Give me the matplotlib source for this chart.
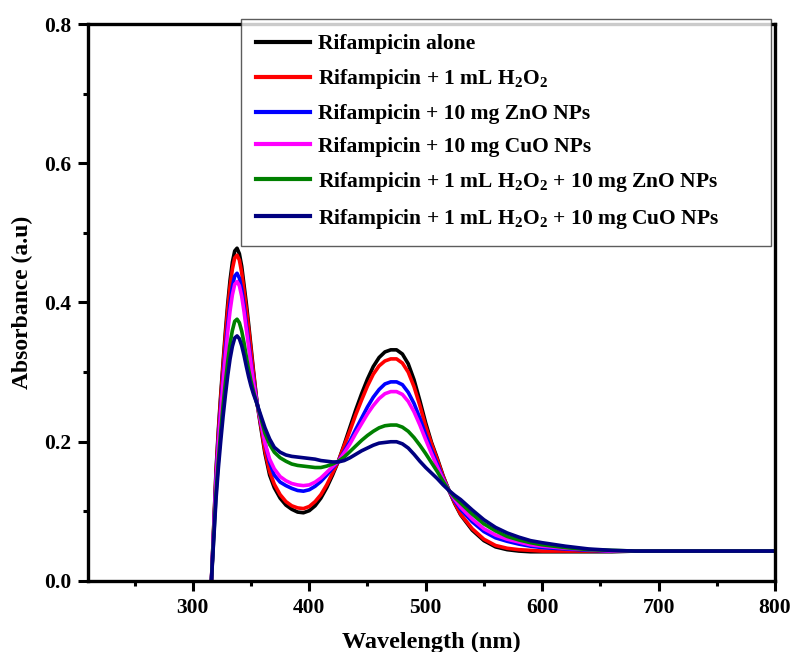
import numpy as np
import matplotlib
matplotlib.use('Agg')
import matplotlib.pyplot as plt
from matplotlib.ticker import MultipleLocator, FormatStrFormatter

plt.rcParams['font.family'] = ['Liberation Serif', 'DejaVu Serif']
plt.rcParams['font.weight'] = 'bold'
plt.rcParams['mathtext.fontset'] = 'custom'
plt.rcParams['mathtext.rm'] = 'Liberation Serif:bold'
plt.rcParams['mathtext.it'] = 'Liberation Serif:bold'
plt.rcParams['mathtext.bf'] = 'Liberation Serif:bold'

# ---------------- UV-Vis spectra (nm, absorbance) ----------------
wavelength = [316, 317, 318, 320, 322, 324, 326, 328, 330, 332, 334, 336, 338,
              340, 342, 344, 346, 348, 350, 352, 355, 358, 362, 366, 370, 375,
              380, 385, 390, 395, 400, 405, 410, 415, 420, 425, 430, 435, 440,
              445, 450, 455, 460, 465, 470, 475, 480, 485, 490, 495, 500, 505,
              510, 515, 520, 525, 530, 540, 550, 560, 570, 580, 590, 600, 620,
              640, 660, 680, 700, 750, 800]

rif_alone = [0.000, 0.040, 0.080, 0.160, 0.218, 0.268, 0.314, 0.358, 0.398, 0.432, 0.458, 0.474, 0.478,
             0.470, 0.452, 0.425, 0.398, 0.368, 0.336, 0.304, 0.258, 0.225, 0.183, 0.152, 0.134, 0.119,
             0.109, 0.103, 0.099, 0.098, 0.101, 0.108, 0.119, 0.134, 0.152, 0.172, 0.196, 0.221, 0.246,
             0.269, 0.290, 0.308, 0.321, 0.329, 0.332, 0.332, 0.326, 0.312, 0.289, 0.259, 0.227, 0.199,
             0.176, 0.151, 0.130, 0.111, 0.095, 0.073, 0.058, 0.049, 0.045, 0.043, 0.042, 0.042, 0.042,
             0.042, 0.042, 0.043, 0.043, 0.043, 0.043]

rif_h2o2 = [0.000, 0.040, 0.078, 0.156, 0.213, 0.263, 0.308, 0.351, 0.390, 0.423, 0.448, 0.464, 0.468,
            0.461, 0.443, 0.417, 0.390, 0.362, 0.331, 0.300, 0.258, 0.228, 0.187, 0.157, 0.139, 0.124,
            0.114, 0.108, 0.105, 0.104, 0.107, 0.114, 0.124, 0.138, 0.155, 0.172, 0.194, 0.216, 0.239,
            0.260, 0.280, 0.297, 0.309, 0.316, 0.319, 0.319, 0.313, 0.300, 0.279, 0.252, 0.222, 0.197,
            0.174, 0.150, 0.130, 0.112, 0.096, 0.075, 0.060, 0.051, 0.047, 0.045, 0.044, 0.043, 0.043,
            0.043, 0.043, 0.043, 0.043, 0.043, 0.043]

rif_zno = [0.000, 0.038, 0.074, 0.148, 0.202, 0.249, 0.292, 0.332, 0.368, 0.399, 0.423, 0.438, 0.442,
           0.435, 0.419, 0.396, 0.368, 0.342, 0.315, 0.289, 0.258, 0.232, 0.198, 0.170, 0.152, 0.142,
           0.137, 0.133, 0.130, 0.129, 0.131, 0.136, 0.143, 0.152, 0.162, 0.172, 0.186, 0.201, 0.218,
           0.234, 0.250, 0.264, 0.275, 0.283, 0.286, 0.286, 0.282, 0.271, 0.255, 0.234, 0.210, 0.188,
           0.168, 0.147, 0.130, 0.115, 0.103, 0.085, 0.071, 0.062, 0.057, 0.053, 0.050, 0.048, 0.046,
           0.044, 0.043, 0.043, 0.043, 0.043, 0.043]

rif_cuo = [0.000, 0.037, 0.072, 0.144, 0.197, 0.243, 0.285, 0.323, 0.358, 0.388, 0.411, 0.426, 0.430,
           0.424, 0.409, 0.387, 0.361, 0.336, 0.311, 0.286, 0.256, 0.232, 0.198, 0.175, 0.161, 0.150,
           0.144, 0.140, 0.138, 0.137, 0.138, 0.142, 0.148, 0.156, 0.164, 0.172, 0.184, 0.197, 0.212,
           0.226, 0.240, 0.252, 0.262, 0.269, 0.272, 0.272, 0.268, 0.258, 0.243, 0.224, 0.203, 0.183,
           0.164, 0.146, 0.130, 0.117, 0.106, 0.089, 0.075, 0.066, 0.060, 0.056, 0.052, 0.050, 0.047,
           0.045, 0.043, 0.043, 0.043, 0.043, 0.043]

rif_h2o2_zno = [0.000, 0.033, 0.064, 0.127, 0.174, 0.215, 0.252, 0.285, 0.315, 0.341, 0.360, 0.373, 0.376,
                0.371, 0.359, 0.342, 0.322, 0.303, 0.287, 0.273, 0.255, 0.237, 0.212, 0.196, 0.185, 0.177,
                0.172, 0.168, 0.166, 0.165, 0.164, 0.163, 0.163, 0.165, 0.168, 0.172, 0.178, 0.186, 0.194,
                0.202, 0.209, 0.215, 0.220, 0.223, 0.224, 0.224, 0.221, 0.215, 0.206, 0.195, 0.183, 0.170,
                0.157, 0.143, 0.130, 0.120, 0.112, 0.096, 0.082, 0.072, 0.064, 0.059, 0.055, 0.052, 0.048,
                0.045, 0.044, 0.043, 0.043, 0.043, 0.043]

rif_h2o2_cuo = [0.000, 0.031, 0.060, 0.119, 0.163, 0.201, 0.236, 0.267, 0.295, 0.319, 0.337, 0.349, 0.352,
                0.348, 0.338, 0.324, 0.308, 0.293, 0.280, 0.269, 0.255, 0.240, 0.220, 0.204, 0.192, 0.185,
                0.181, 0.179, 0.178, 0.177, 0.176, 0.175, 0.173, 0.172, 0.171, 0.171, 0.173, 0.177, 0.182,
                0.187, 0.191, 0.195, 0.198, 0.199, 0.200, 0.200, 0.197, 0.191, 0.182, 0.172, 0.163, 0.155,
                0.147, 0.138, 0.130, 0.123, 0.117, 0.102, 0.088, 0.077, 0.069, 0.063, 0.058, 0.055, 0.050,
                0.046, 0.044, 0.043, 0.043, 0.043, 0.043]

labels = ['Rifampicin alone',
          r'Rifampicin + 1 mL H$_2$O$_2$',
          'Rifampicin + 10 mg ZnO NPs',
          'Rifampicin + 10 mg CuO NPs',
          r'Rifampicin + 1 mL H$_2$O$_2$ + 10 mg ZnO NPs',
          r'Rifampicin + 1 mL H$_2$O$_2$ + 10 mg CuO NPs']
colors = ['black', 'red', 'blue', 'magenta', 'green', 'navy']
series = [rif_alone, rif_h2o2, rif_zno, rif_cuo, rif_h2o2_zno, rif_h2o2_cuo]

fig = plt.figure(figsize=(7.92, 6.52), dpi=100)
ax = fig.add_axes([88 / 792, 71 / 652, 687 / 792, 557 / 652])

for y, c, lab in zip(series, colors, labels):
    ax.plot(wavelength, y, color=c, lw=2.6, label=lab)

ax.set_xlim(210, 800)
ax.set_ylim(0, 0.8)
ax.set_xticks([300, 400, 500, 600, 700, 800])
ax.xaxis.set_minor_locator(MultipleLocator(50))
ax.yaxis.set_major_locator(MultipleLocator(0.2))
ax.yaxis.set_minor_locator(MultipleLocator(0.1))
ax.yaxis.set_major_formatter(FormatStrFormatter('%.1f'))

for s in ax.spines.values():
    s.set_linewidth(2.4)
ax.tick_params(which='major', direction='out', length=7, width=2.2, labelsize=15.5, pad=5)
ax.tick_params(which='minor', direction='out', length=3.5, width=2.2)
ax.tick_params(top=False, right=False, which='both')

ax.set_xlabel('Wavelength (nm)', fontsize=17.5, fontweight='bold', labelpad=10)
ax.set_ylabel('Absorbance (a.u)', fontsize=17, fontweight='bold', labelpad=8)

# legend box spans from the top edge of the frame down over the upper part of the plot
leg_left, leg_top, leg_w, leg_h = 240.7 / 792, 1 - 19 / 652, 530 / 792, 225 / 652
leg = ax.legend(loc='upper left', bbox_to_anchor=(leg_left, leg_top - leg_h, leg_w, leg_h),
                bbox_transform=fig.transFigure, mode='expand',
                borderaxespad=0, fontsize=15.5, handlelength=2.5, handletextpad=0.4,
                frameon=True, fancybox=False, shadow=False, labelspacing=0.6, borderpad=0.7)
leg.get_frame().set_edgecolor('#333333')
leg.get_frame().set_linewidth(1.0)
for line in leg.get_lines():
    line.set_linewidth(3)

plt.savefig('out.png', dpi=100)
